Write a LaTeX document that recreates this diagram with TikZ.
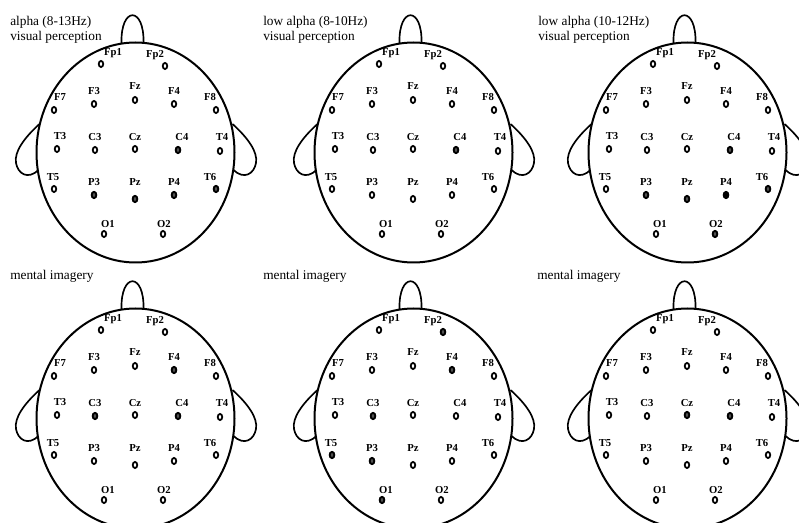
\documentclass[tikz,border=0pt]{standalone}
\usepackage{fontspec}
\setmainfont{Liberation Serif}
\usetikzlibrary{shapes.geometric}

\begin{document}
\begin{tikzpicture}[
    x=0.75pt, y=-0.75pt,
    head/.style={line width=1.5pt},
    ear/.style={line width=1.25pt},
    electrode/.style={
        draw,
        ellipse,
        line width=1.3pt,
        minimum width=3.4pt,
        minimum height=4.6pt,
        inner sep=0pt,
        fill=white
    },
    active/.style={fill=black!68},
    peak/.style={fill=black},
    elabel/.style={
        font=\fontsize{8}{8}\selectfont\bfseries,
        inner sep=0pt
    },
    caption/.style={
        align=left,
        anchor=west,
        inner sep=0pt,
        font=\fontsize{10}{11.5}\selectfont
    }
]

% Canvas
\useasboundingbox (0,0) rectangle (799,523);
\clip (0,0) rectangle (799,523);

% Heads with the 10-20 electrodes
\foreach \p/\ox/\oy in {a/0/0, b/278/0, c/552/0, d/0/266, e/278/266, f/552/266} {
  \begin{scope}[shift={(\ox,\oy)}]
    \draw[head] (135.5,152.5) ellipse [x radius=99, y radius=110];
    % nose
    \draw[ear] (121.5,43) .. controls (120.5,6) and (144.5,6) .. (143.5,43);
    % ears
    \draw[ear] (39.5,124) .. controls (24,138) and (14,152) .. (16,163)
        .. controls (18,174) and (28,180) .. (38.5,170);
    \draw[ear] (232.5,124) .. controls (248,138) and (258,152) .. (256,163)
        .. controls (254,174) and (244,180) .. (233.5,170);
    \foreach \n/\x/\y/\dx/\dy in {
        Fp1/101/64/12/-11, Fp2/165/66/-10/-11,
        F7/54/110/6/-13, F3/94/104/0/-13, Fz/135/100/0/-14,
        F4/174/104/0/-13, F8/216/110/-6/-13,
        T3/57/149/3/-13, C3/95/150/0/-13, Cz/135/149/0/-12,
        C4/178/150/4/-13, T4/220/151/2/-14,
        T5/54/189/-1/-12, P3/94/195/0/-13, Pz/135/199/0/-17,
        P4/174/195/0/-13, T6/216/189/-6/-12,
        O1/104/234/4/-10, O2/163/234/1/-10} {
      \node[electrode] (\p-\n) at (\x,\y) {};
      \node[elabel] (\p-\n-l) at ([shift={(\dx,\dy)}]\p-\n) {\n};
    }
  \end{scope}
}

% Active electrodes
\foreach \n in {C4,P3,Pz,P4,T6} \node[electrode, active] at (a-\n) {};
\node[electrode, active] at (b-C4) {};
\foreach \n in {C4,P3,Pz,T6,O2} \node[electrode, active] at (c-\n) {};
\node[electrode, peak] at (c-P4) {};
\foreach \n in {F4,C3,C4} \node[electrode, active] at (d-\n) {};
\foreach \n in {Fp2,F4,C3,T5,P3,O1} \node[electrode, active] at (e-\n) {};
\foreach \n in {Cz,C4} \node[electrode, active] at (f-\n) {};

% Captions
\node[caption] (cap-a) at (10,30) {alpha (8-13Hz)\\visual perception};
\node[caption] (cap-b) at (263,30) {low alpha (8-10Hz)\\visual perception};
\node[caption] (cap-c) at (538,30) {low alpha (10-12Hz)\\visual perception};
\node[caption] (cap-d) at (10,276) {mental imagery};
\node[caption] (cap-e) at (263,276) {mental imagery};
\node[caption] (cap-f) at (537,276) {mental imagery};

\end{tikzpicture}
\end{document}
